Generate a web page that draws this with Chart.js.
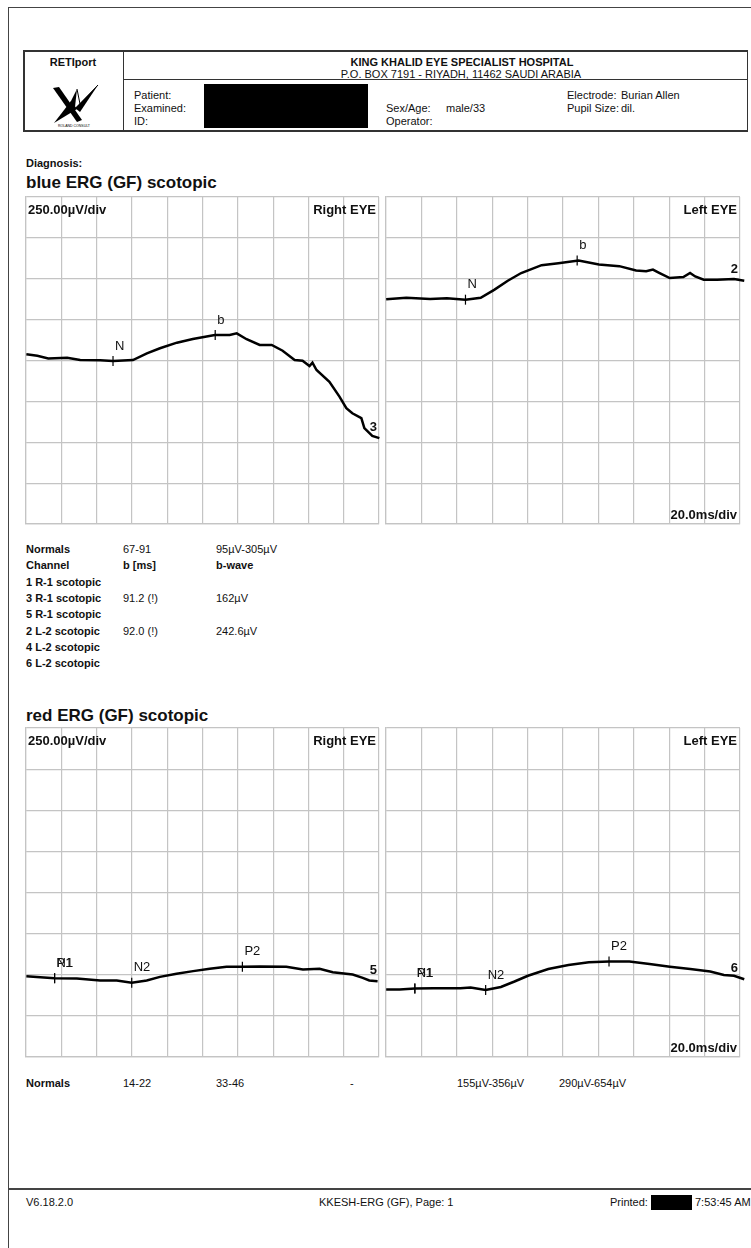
<!DOCTYPE html>
<html><head><meta charset="utf-8">
<script src="https://cdn.jsdelivr.net/npm/chart.js@4/dist/chart.umd.min.js"></script>
<style>
html,body{margin:0;padding:0;background:#fff;width:751px;height:1248px;overflow:hidden;font-family:'Liberation Sans',Arial,sans-serif;color:#111}
.t{position:absolute;white-space:nowrap;line-height:14px;height:14px}
.ln{position:absolute;background:#333}
canvas{position:absolute}
</style></head><body>
<script>
// ---------------- DATA ----------------
// blue ERG, Right EYE (channel 3): time [ms], amplitude [µV]
const blueRightTimes  = [-15.8,-9.6,-3.4,7.3,14.7,26,33.3,44.6,52.5,59.9,69.5,78.5,91,99.4,103.4,109,116.4,123.2,129.4,136.2,140.7,144.6,146.3,148.6,155.9,161.6,165.5,168.9,174,175.7,180.2,184.2];
const blueRightValues = [38,29,13,17,3,1,-3,3,44,75,109,131,156,156,166,130,95,95,60,3,-1,-34,-13,-58,-130,-221,-292,-323,-353,-414,-461,-475];
const blueRightMarkerNames  = ['N','b'];
const blueRightMarkerTimes  = [33.3,91.2];
const blueRightMarkerValues = [-3,156];

// blue ERG, Left EYE (channel 2)
const blueLeftTimes  = [-15.9,-4.5,8.9,18.4,28.9,37.5,45.1,52.8,60.4,71.9,81.4,92.8,104.3,115.8,125.3,131,134.8,138.6,144.3,152,155.8,158.7,163.5,171.1,180.6,186.4];
const blueLeftValues = [374,384,376,381,372,384,432,488,535,583,595,612,587,577,550,546,556,535,504,510,535,514,494,494,498,488];
const blueLeftMarkerNames  = ['N','b'];
const blueLeftMarkerTimes  = [28.9,92.0];
const blueLeftMarkerValues = [372,612];

// red ERG, Right EYE (channel 5)
const redRightTimes  = [-15.8,-7.9,0.2,12.8,26,35.4,43.9,52.4,59.9,69.3,78.7,88.1,97.6,106.6,116.4,131.5,140.9,150.3,157.8,169.1,174.8,178.5,183.2];
const redRightValues = [-509,-515,-521,-523,-535,-535,-549,-535,-513,-494,-478,-464,-452,-452,-450,-452,-468,-464,-485,-499,-519,-535,-539];
const redRightMarkerNames  = ['N1','P1','N2','P2'];
const redRightMarkerTimes  = [0.2,0.2,43.9,106.6];
const redRightMarkerValues = [-521,-521,-549,-452];

// red ERG, Left EYE (channel 6)
const redLeftTimes  = [-15.9,-8.3,0.3,10.7,26,31.8,40.3,48.9,56.6,64.2,75.7,87.1,98.6,110,121.5,132.9,144.4,155.9,167.2,174.9,180.6,186.4];
const redLeftValues = [-589,-589,-584,-582,-582,-578,-593,-574,-541,-506,-465,-441,-424,-420,-420,-435,-451,-465,-480,-502,-506,-527];
const redLeftMarkerNames  = ['N1','P1','N2','P2'];
const redLeftMarkerTimes  = [0.3,0.3,40.3,110];
const redLeftMarkerValues = [-584,-584,-593,-420];

// axis ranges / divisions
const timeMin = -16, timeMax = 184, timeStep = 20;       // 20.0 ms/div
const ampMin = -1000, ampMax = 1000, ampStep = 250;       // 250.00 µV/div

// table texts
const blueTableRows = [
  ['Normals','67-91','95µV-305µV'],
  ['Channel','b [ms]','b-wave'],
  ['1 R-1 scotopic','',''],
  ['3 R-1 scotopic','91.2 (!)','162µV'],
  ['5 R-1 scotopic','',''],
  ['2 L-2 scotopic','92.0 (!)','242.6µV'],
  ['4 L-2 scotopic','',''],
  ['6 L-2 scotopic','','']
];
const redNormals = ['Normals','14-22','33-46','-','155µV-356µV','290µV-654µV'];

// ---------------- PAGE TEXT ----------------
const FONT = "'Liberation Sans', Arial, sans-serif";
function txt(x, yc, s, size, bold, align){
  const d = document.createElement('div');
  d.className = 't';
  d.textContent = s;
  d.style.fontSize = size + 'px';
  d.style.lineHeight = (size+4)+'px';
  d.style.height = (size+4)+'px';
  d.style.top = (yc - (size+4)/2) + 'px';
  if (bold) d.style.fontWeight = 'bold';
  if (align === 'center'){ d.style.left = x+'px'; d.style.transform='translateX(-50%)'; }
  else if (align === 'right'){ d.style.right = (751-x)+'px'; }
  else d.style.left = x + 'px';
  document.body.appendChild(d);
  return d;
}
function rect(x, y, w, h, color){
  const d = document.createElement('div');
  d.className = 'ln';
  d.style.left = x+'px'; d.style.top = y+'px'; d.style.width = w+'px'; d.style.height = h+'px';
  if (color) d.style.background = color;
  document.body.appendChild(d);
}
// page frame
rect(8, 7, 743, 1, '#444');
rect(8, 7, 1, 1241, '#444');
// header box
rect(23, 50, 725, 1.5, '#333');
rect(23, 130, 725, 1.5, '#333');
rect(23, 50, 1.5, 81, '#333');
rect(746.5, 50, 1.5, 81, '#333');
rect(122.5, 50, 1.5, 81, '#333');
txt(73, 62, 'RETIport', 11, true, 'center');
txt(462, 62, 'KING KHALID EYE SPECIALIST HOSPITAL', 11, true, 'center');
txt(461, 74, 'P.O. BOX 7191 - RIYADH, 11462 SAUDI ARABIA', 11, false, 'center');
rect(123, 79, 624, 1.2, '#333');
txt(134, 95, 'Patient:', 11, false);
txt(134, 108, 'Examined:', 11, false);
txt(134, 121, 'ID:', 11, false);
rect(204, 84, 164, 44, '#000');
txt(386, 108, 'Sex/Age:', 11, false);
txt(446, 108, 'male/33', 11, false);
txt(386, 121, 'Operator:', 11, false);
txt(567, 95, 'Electrode:', 11, false);
txt(621, 95, 'Burian Allen', 11, false);
txt(567, 108, 'Pupil Size:', 11, false);
txt(621, 108, 'dil.', 11, false);
// logo
const svgNS = 'http://www.w3.org/2000/svg';
const logo = document.createElementNS(svgNS,'svg');
logo.setAttribute('width','60'); logo.setAttribute('height','46');
logo.style.position='absolute'; logo.style.left='44px'; logo.style.top='82px';
logo.innerHTML =
  '<polygon points="9,6 15,5 38,38 33,40" fill="#000"/>'+
  '<polygon points="54,3 36,30 31,26" fill="#000"/>'+
  '<polygon points="33,27 10,41 27,19" fill="#000"/>'+
  '<polygon points="26,21 33,7 31,25" fill="#000"/>'+
  '<polyline points="33,7 36,22 54,3" fill="none" stroke="#000" stroke-width="1"/>'+
  '<text x="30" y="45" font-size="3.5" text-anchor="middle" font-family="Liberation Sans">ROLAND CONSULT</text>';
document.body.appendChild(logo);

txt(26, 163, 'Diagnosis:', 11, true);
txt(26, 182, 'blue ERG (GF) scotopic', 17, true);
const rowY = [549,565,582,598,614,631,647,663];
blueTableRows.forEach((r,i)=>{
  txt(26, rowY[i], r[0], 11, true);
  if (r[1]) txt(123, rowY[i], r[1], 11, i===1);
  if (r[2]) txt(216, rowY[i], r[2], 11, i===1);
});
txt(26, 715, 'red ERG (GF) scotopic', 17, true);
const redCols = [26,123,216,350,457,559];
redNormals.forEach((s,i)=> txt(redCols[i], 1083, s, 11, i===0));
// footer
rect(8, 1188, 743, 1.5, '#444');
txt(26, 1202, 'V6.18.2.0', 11, false);
txt(319, 1202, 'KKESH-ERG (GF), Page: 1', 11, false);
txt(610, 1202, 'Printed:', 11, false);
rect(651, 1195, 41, 15, '#000');
txt(695, 1202, '7:53:45 AM', 11, false);

// ---------------- CHARTS ----------------
const PAD = {left:3, right:12, top:3, bottom:3};
function makePanel(left, top, w, h, times, values, mNames, mTimes, mValues, channel, corners){
  const c = document.createElement('canvas');
  const cw = w + PAD.left + PAD.right, ch = h + PAD.top + PAD.bottom;
  c.width = cw; c.height = ch;
  c.style.left = (left - PAD.left)+'px'; c.style.top = (top - PAD.top)+'px';
  c.style.width = cw+'px'; c.style.height = ch+'px';
  document.body.appendChild(c);
  const annot = {
    id: 'annot',
    afterDatasetsDraw(chart){
      const {ctx, chartArea:a, scales:{x, y}} = chart;
      ctx.save();
      ctx.fillStyle = '#111';
      ctx.textBaseline = 'middle';
      ctx.textAlign = 'left';
      ctx.font = '13px ' + FONT;
      mNames.forEach((n,i)=>{
        ctx.fillText(n, x.getPixelForValue(mTimes[i]) + 2, y.getPixelForValue(mValues[i]) - 15);
      });
      ctx.font = 'bold 13px ' + FONT;
      ctx.textAlign = 'right';
      ctx.fillText(channel, a.right - 2, y.getPixelForValue(values[values.length-1]) - 11);
      if (corners.tl){ ctx.textAlign='left'; ctx.fillText(corners.tl, a.left+2, a.top+13); }
      if (corners.tr){ ctx.textAlign='right'; ctx.fillText(corners.tr, a.right-3, a.top+13); }
      if (corners.br){ ctx.textAlign='right'; ctx.fillText(corners.br, a.right-3, a.bottom-9); }
      ctx.restore();
    }
  };
  const gridColor = '#c4c4c4';
  return new Chart(c, {
    type: 'line',
    data: {
      datasets: [
        { data: times.map((t,i)=>({x:t, y:values[i]})), borderColor:'#000', borderWidth:2.5,
          pointRadius:0, tension:0, fill:false, clip:{left:3,right:12,top:3,bottom:3} },
        { data: mTimes.map((t,i)=>({x:t, y:mValues[i]})), showLine:false, pointStyle:'line',
          rotation:90, pointRadius:5, borderColor:'#000', borderWidth:1.2, backgroundColor:'#000' }
      ]
    },
    options: {
      responsive:false, animation:false, devicePixelRatio:1,
      layout:{padding:PAD, autoPadding:false},
      plugins:{legend:{display:false}, tooltip:{enabled:false}},
      scales:{
        x:{ type:'linear', min:timeMin, max:timeMax,
            ticks:{display:false, stepSize:timeStep},
            grid:{color:gridColor, lineWidth:1.2, drawTicks:false},
            border:{display:true, color:gridColor, width:1.2},
            afterFit(s){ s.height = 0; } },
        y:{ type:'linear', min:ampMin, max:ampMax,
            ticks:{display:false, stepSize:ampStep},
            grid:{color:gridColor, lineWidth:1.2, drawTicks:false},
            border:{display:true, color:gridColor, width:1.2},
            afterFit(s){ s.width = 0; } }
      }
    },
    plugins:[annot]
  });
}
makePanel(26, 197, 353, 327, blueRightTimes, blueRightValues, blueRightMarkerNames, blueRightMarkerTimes, blueRightMarkerValues, '3', {tl:'250.00µV/div', tr:'Right EYE'});
makePanel(386, 197, 354, 327, blueLeftTimes, blueLeftValues, blueLeftMarkerNames, blueLeftMarkerTimes, blueLeftMarkerValues, '2', {tr:'Left EYE', br:'20.0ms/div'});
makePanel(26, 728, 353, 329, redRightTimes, redRightValues, redRightMarkerNames, redRightMarkerTimes, redRightMarkerValues, '5', {tl:'250.00µV/div', tr:'Right EYE'});
makePanel(386, 728, 354, 329, redLeftTimes, redLeftValues, redLeftMarkerNames, redLeftMarkerTimes, redLeftMarkerValues, '6', {tr:'Left EYE', br:'20.0ms/div'});
</script>
</body></html>
